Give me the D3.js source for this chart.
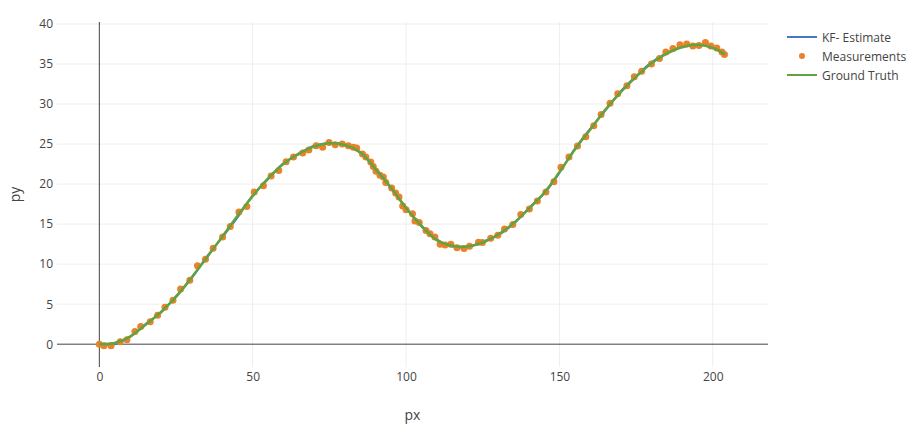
<!DOCTYPE html>
<html>
<head>
<meta charset="utf-8">
<script src="https://cdn.jsdelivr.net/npm/d3@7"></script>
<style>
  body { margin: 0; background: #fff; }
  svg text { font-family: "Open Sans", verdana, arial, sans-serif; fill: #444; }
</style>
</head>
<body>
<svg width="922" height="428"></svg>
<script>
var measX = [0, 1.5, 3.8, 6.8, 9.0, 11.6, 13.5, 16.6, 19.0, 21.4, 24.0, 26.5, 29.5, 32.0, 34.6, 37.1,
  40.2, 42.7, 45.5, 48.1, 50.5, 53.5, 56.0, 58.5, 60.9, 63.3, 66.3, 68.3, 70.7, 72.8, 74.9, 76.9,
  79.2, 81.2, 82.8, 83.9, 85.8, 86.9, 88.5, 89.3, 90.2, 91.5, 92.6, 93.4, 95.3, 96.6, 97.7, 98.9,
  100.0, 102.1, 102.9, 104.3, 106.5, 107.8, 109.4, 111.1, 112.7, 114.6, 116.6, 118.9, 120.7, 123.6,
  124.9, 127.6, 129.9, 132.1, 134.8, 137.4, 140.2, 142.8, 145.6, 148.2, 150.5, 153.1, 155.9, 158.6,
  161.2, 163.6, 166.5, 169.0, 172.0, 174.4, 176.8, 180.0, 182.6, 184.7, 187.0, 189.3, 191.5, 193.5,
  195.5, 197.6, 199.4, 201.3, 203.0, 203.8];
var measY = [0, -0.2, -0.2, 0.3, 0.55, 1.6, 2.2, 2.8, 3.6, 4.6, 5.5, 6.9, 8.0, 9.8, 10.6, 12.0,
  13.4, 14.7, 16.5, 17.2, 19.0, 19.8, 21.0, 21.7, 22.8, 23.4, 23.9, 24.25, 24.8, 24.6, 25.2, 24.9,
  25.0, 24.8, 24.6, 24.5, 23.75, 23.4, 22.75, 22.2, 21.6, 21.1, 20.9, 20.2, 19.5, 18.9, 18.4, 17.25,
  16.8, 16.3, 15.4, 15.2, 14.2, 13.8, 13.4, 12.5, 12.4, 12.5, 12.05, 11.95, 12.25, 12.75,
  12.7, 13.25, 13.6, 14.4, 14.95, 16.2, 16.9, 17.9, 19.0, 20.3, 22.1, 23.4, 24.75, 25.9,
  27.3, 28.7, 30.1, 31.3, 32.3, 33.4, 34.1, 35.0, 35.7, 36.5, 36.95, 37.4, 37.5, 37.25,
  37.3, 37.7, 37.25, 37.0, 36.5, 36.2];

// ground truth path
var gtX = [0, 5, 10, 15, 20, 25, 30, 35, 40, 45, 50, 55, 60, 65, 70, 75, 80, 85, 90, 95, 100,
  105, 110, 115, 120, 125, 130, 135, 140, 145, 150, 155, 160, 165, 170, 175, 180, 185, 190, 195, 200, 204];
var gtY = [0, 0.15, 0.95, 2.4, 4.0, 5.9, 8.3, 10.8, 13.4, 16.0, 18.5, 20.7, 22.5, 23.8, 24.7, 25.1, 24.9, 24.0, 21.9, 19.6, 17.0,
  14.8, 13.0, 12.3, 12.2, 12.7, 13.7, 15.1, 16.9, 18.9, 21.5, 24.3, 26.8, 29.3, 31.5, 33.4, 35.1, 36.3, 37.1, 37.4, 37.0, 36.2];

// kalman filter estimate
var kfX = [0, 5, 10, 15, 20, 25, 30, 35, 40, 45, 50, 55, 60, 65, 70, 75, 80, 85, 90, 95, 100,
  105, 110, 115, 120, 125, 130, 135, 140, 145, 150, 155, 160, 165, 170, 175, 180, 185, 190, 195, 200, 204];
var kfY = [0, 0.0, 0.9, 2.5, 3.9, 6.0, 8.2, 10.9, 13.3, 15.8, 18.6, 20.6, 22.6, 23.7, 24.8, 25.1, 25.0, 23.9, 22.0, 19.5, 17.1,
  14.7, 13.1, 12.2, 12.1, 12.8, 13.6, 15.0, 17.0, 18.8, 21.4, 24.4, 26.9, 29.2, 31.6, 33.5, 35.2, 36.4, 37.2, 37.4, 37.1, 36.3];

var xTicks = [0, 50, 100, 150, 200];
var yTicks = [0, 5, 10, 15, 20, 25, 30, 35, 40];

var colKF = "#4677c0", colMeas = "#e8822b", colGT = "#62a33f";

var svg = d3.select("svg");
var plotL = 57, plotR = 768, plotT = 22, plotB = 367;

var x = d3.scaleLinear().domain([-13.8, 218]).range([plotL, plotR]);
var y = d3.scaleLinear().domain([-2.85, 40.25]).range([plotB, plotT]);

// grid
svg.append("g")
  .selectAll("line")
  .data(xTicks.filter(function(d) { return d !== 0; }))
  .enter().append("line")
  .attr("x1", function(d) { return x(d); }).attr("x2", function(d) { return x(d); })
  .attr("y1", plotT).attr("y2", plotB)
  .attr("stroke", "#eee");
svg.append("g")
  .selectAll("line")
  .data(yTicks.filter(function(d) { return d !== 0; }))
  .enter().append("line")
  .attr("y1", function(d) { return y(d); }).attr("y2", function(d) { return y(d); })
  .attr("x1", plotL).attr("x2", plotR)
  .attr("stroke", "#eee");

// zero lines
svg.append("line")
  .attr("x1", x(0)).attr("x2", x(0)).attr("y1", plotT).attr("y2", plotB)
  .attr("stroke", "#444");
svg.append("line")
  .attr("x1", plotL).attr("x2", plotR).attr("y1", y(0)).attr("y2", y(0))
  .attr("stroke", "#444");

// tick labels
var xAxis = d3.axisBottom(x).tickValues(xTicks).tickSize(0).tickPadding(0);
var gx = svg.append("g").attr("transform", "translate(0," + (plotB + 14) + ")").call(xAxis);
gx.select(".domain").remove();
gx.selectAll("text").attr("font-size", 12).attr("dy", 0).attr("fill", "#444")
  .style("font-family", "'Open Sans', verdana, arial, sans-serif");

var yAxis = d3.axisLeft(y).tickValues(yTicks).tickSize(0).tickPadding(0);
var gy = svg.append("g").attr("transform", "translate(" + (plotL - 4) + ",0)").call(yAxis);
gy.select(".domain").remove();
gy.selectAll("text").attr("font-size", 12).attr("fill", "#444")
  .style("font-family", "'Open Sans', verdana, arial, sans-serif");

// axis titles
svg.append("text").attr("x", (plotL + plotR) / 2).attr("y", 420)
  .attr("text-anchor", "middle").attr("font-size", 14).text("px");
svg.append("text")
  .attr("transform", "translate(20," + ((plotT + plotB) / 2) + ") rotate(-90)")
  .attr("text-anchor", "middle").attr("font-size", 14).text("py");

// series
var line = d3.line()
  .x(function(d) { return x(d[0]); })
  .y(function(d) { return y(d[1]); })
  .curve(d3.curveCatmullRom);

svg.append("path")
  .datum(d3.zip(kfX, kfY))
  .attr("fill", "none").attr("stroke", colKF).attr("stroke-width", 2)
  .attr("d", line);

svg.append("g")
  .selectAll("circle")
  .data(d3.zip(measX, measY))
  .enter().append("circle")
  .attr("cx", function(d) { return x(d[0]); })
  .attr("cy", function(d) { return y(d[1]); })
  .attr("r", 3.5)
  .attr("fill", colMeas);

svg.append("path")
  .datum(d3.zip(gtX, gtY))
  .attr("fill", "none").attr("stroke", colGT).attr("stroke-width", 2.5)
  .attr("d", line);

// legend
var legend = [
  { name: "KF- Estimate", type: "line", color: colKF },
  { name: "Measurements", type: "dot", color: colMeas },
  { name: "Ground Truth", type: "line", color: colGT }
];
var lg = svg.append("g").attr("transform", "translate(787,37)");
legend.forEach(function(d, i) {
  var row = lg.append("g").attr("transform", "translate(0," + (i * 19) + ")");
  if (d.type === "line") {
    row.append("line").attr("x1", 0).attr("x2", 30).attr("y1", 0).attr("y2", 0)
      .attr("stroke", d.color).attr("stroke-width", 2);
  } else {
    row.append("circle").attr("cx", 15).attr("cy", 0).attr("r", 3).attr("fill", d.color);
  }
  row.append("text").attr("x", 35).attr("y", 4.5).attr("font-size", 12).text(d.name);
});
</script>
</body>
</html>
